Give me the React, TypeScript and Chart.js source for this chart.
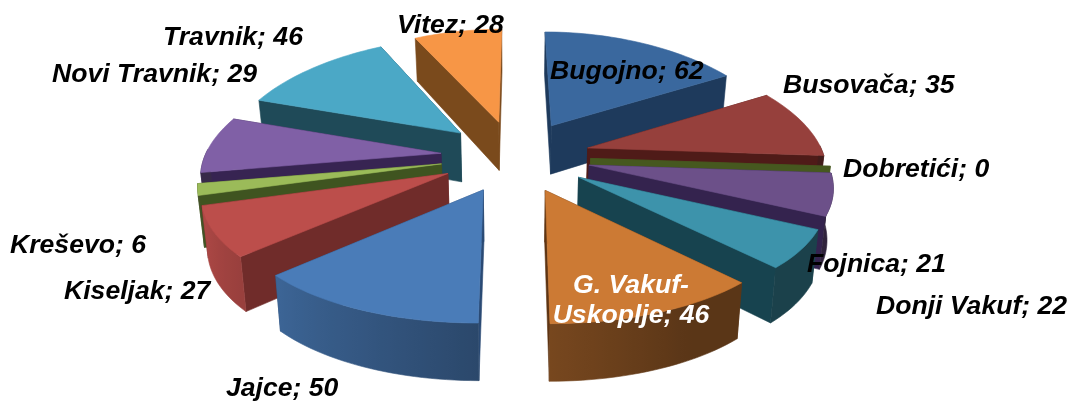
import React, { useEffect, useRef } from "react";
import { Chart, registerables } from "chart.js";

Chart.register(...registerables);

const categories = ["Bugojno", "Busovača", "Dobretići", "Donji Vakuf", "Fojnica", "G. Vakuf-Uskoplje", "Jajce", "Kiseljak", "Kreševo", "Novi Travnik", "Travnik", "Vitez"];
const values = [62, 35, 0, 22, 21, 46, 50, 27, 6, 29, 46, 28];
const topColors = ["#3A689E", "#96403C", "#7A9A3A", "#6C5089", "#3D93AB", "#CC7A34", "#4A7CB8", "#BC4E4B", "#9BBB59", "#8060A6", "#4BA8C6", "#F79646"];
const wallColors = ["#1E3A5C", "#4F1B18", "#46581F", "#34234E", "#17434F", "#5E3413", "#2A4A74", "#702C2A", "#3F5420", "#372452", "#1F4A58", "#7A4A1C"];

// label anchors: [text, x, baseline y, align, colour]; one entry per text line
const labelSpots: [string, number, number, CanvasTextAlign, string][] = [
  ["Bugojno; 62", 550, 79, "left", "#000"],
  ["Busovača; 35", 783, 93, "left", "#000"],
  ["Dobretići; 0", 843, 177, "left", "#000"],
  ["Donji Vakuf; 22", 876, 314, "left", "#000"],
  ["Fojnica; 21", 807, 272, "left", "#000"],
  ["G. Vakuf-", 631, 293, "center", "#fff"],
  ["Uskoplje; 46", 631, 323, "center", "#fff"],
  ["Jajce; 50", 226, 396, "left", "#000"],
  ["Kiseljak; 27", 64, 299, "left", "#000"],
  ["Kreševo; 6", 10, 253, "left", "#000"],
  ["Novi Travnik; 29", 52, 82, "left", "#000"],
  ["Travnik; 46", 163, 45, "left", "#000"],
  ["Vitez; 28", 397, 33, "left", "#000"],
];

const CENTER_X = 515.5;
const CENTER_Y = 156;
const DEPTH = 50;

function project(u: number, v: number, z: number): [number, number] {
  const fx = (1 + 0.0007 * v) * (1 - 0.0004 * z);
  const fy = 1 + 0.00047 * v;
  return [CENTER_X + u * fx, CENTER_Y + v * 0.48 * fy + z * (1 + 0.0005 * v)];
}

function hexMix(hex: string, b: number): string {
  const n = parseInt(hex.slice(1), 16);
  const c = (s: number) => Math.round(((n >> s) & 255) * b);
  return `rgb(${c(16)},${c(8)},${c(0)})`;
}

function wallShade(angle: number): number {
  const deg = ((angle + Math.PI / 2) * 180) / Math.PI;
  if (deg > 254) return 0.44;
  return 0.44 + 0.48 * Math.min(1, Math.max(0, (deg - 150) / 100));
}

const pie3d = {
  id: "pie3d",
  beforeDatasetsDraw(chart: any) {
    const ctx: CanvasRenderingContext2D = chart.ctx;
    const arcs = chart.getDatasetMeta(0).data as any[];
    const items = arcs.map((arc, i) => {
      const mid = (arc.startAngle + arc.endAngle) / 2;
      const off = arc.options.offset as number;
      return { arc, i, mid, ou: Math.cos(mid) * off, ov: Math.sin(mid) * off };
    });
    items.sort((a, b) => a.ov - b.ov);
    for (const { arc, i, ou, ov } of items) {
      const R = arc.outerRadius as number;
      const a0 = arc.startAngle as number;
      const a1 = arc.endAngle as number;
      const pt = (a: number, z: number) => project(ou + Math.cos(a) * R, ov + Math.sin(a) * R, z);
      const apex = (z: number) => project(ou, ov, z);
      const poly = (pts: [number, number][], color: string | CanvasGradient) => {
        ctx.beginPath();
        pts.forEach((p, k) => (k ? ctx.lineTo(p[0], p[1]) : ctx.moveTo(p[0], p[1])));
        ctx.closePath();
        ctx.fillStyle = color;
        ctx.strokeStyle = color;
        ctx.lineWidth = 0.6;
        ctx.fill();
        ctx.stroke();
      };
      const walls = [a0, a1].sort((p, q) => Math.sin(p) - Math.sin(q));
      poly([apex(0), pt(walls[0], 0), pt(walls[0], DEPTH), apex(DEPTH)], wallColors[i]);
      poly([apex(0), pt(walls[1], 0), pt(walls[1], DEPTH), apex(DEPTH)], wallColors[i]);
      if (a1 <= a0) continue;
      const steps = Math.max(2, Math.ceil((a1 - a0) / 0.03));
      // outer wall, only the part that faces the viewer, shaded along the screen x
      const seen: number[] = [];
      for (let s = 0; s <= steps; s++) {
        const a = a0 + ((a1 - a0) * s) / steps;
        if (Math.sin(a) >= -0.05) seen.push(a);
      }
      if (seen.length > 1) {
        const xa = pt(seen[0], 0)[0];
        const xb = pt(seen[seen.length - 1], 0)[0];
        const grad = ctx.createLinearGradient(xa, 0, xb === xa ? xa + 1 : xb, 0);
        seen.forEach((a) => {
          const stop = (pt(a, 0)[0] - xa) / (xb - xa || 1);
          grad.addColorStop(Math.min(1, Math.max(0, stop)), hexMix(topColors[i], wallShade(a)));
        });
        const shape: [number, number][] = [];
        seen.forEach((a) => shape.push(pt(a, 0)));
        [...seen].reverse().forEach((a) => shape.push(pt(a, DEPTH)));
        poly(shape, grad);
      }
      // top face
      const top: [number, number][] = [apex(0)];
      for (let s = 0; s <= steps; s++) top.push(pt(a0 + ((a1 - a0) * s) / steps, 0));
      poly(top, topColors[i]);
    }
    return false;
  },
  afterDraw(chart: any) {
    const ctx: CanvasRenderingContext2D = chart.ctx;
    ctx.save();
    ctx.font = 'italic bold 26.6px "Liberation Sans", Arial, sans-serif';
    ctx.textBaseline = "alphabetic";
    for (const [text, x, y, align, color] of labelSpots) {
      ctx.textAlign = align;
      ctx.fillStyle = color;
      ctx.fillText(text, x, y);
    }
    ctx.restore();
  },
};

export default function App() {
  const ref = useRef<HTMLCanvasElement>(null);
  useEffect(() => {
    const chart = new Chart(ref.current!, {
      type: "pie",
      data: {
        labels: categories,
        datasets: [{ data: values, backgroundColor: topColors, borderWidth: 0, offset: 75 }],
      },
      options: {
        responsive: false,
        animation: false,
        radius: 236,
        plugins: { legend: { display: false }, tooltip: { enabled: false } },
      } as any,
      plugins: [pie3d as any],
    });
    return () => chart.destroy();
  }, []);
  return (
    <canvas
      ref={ref}
      width={1073}
      height={401}
      style={{ position: "absolute", left: 0, top: 0, width: 1073, height: 401 }}
    />
  );
}
